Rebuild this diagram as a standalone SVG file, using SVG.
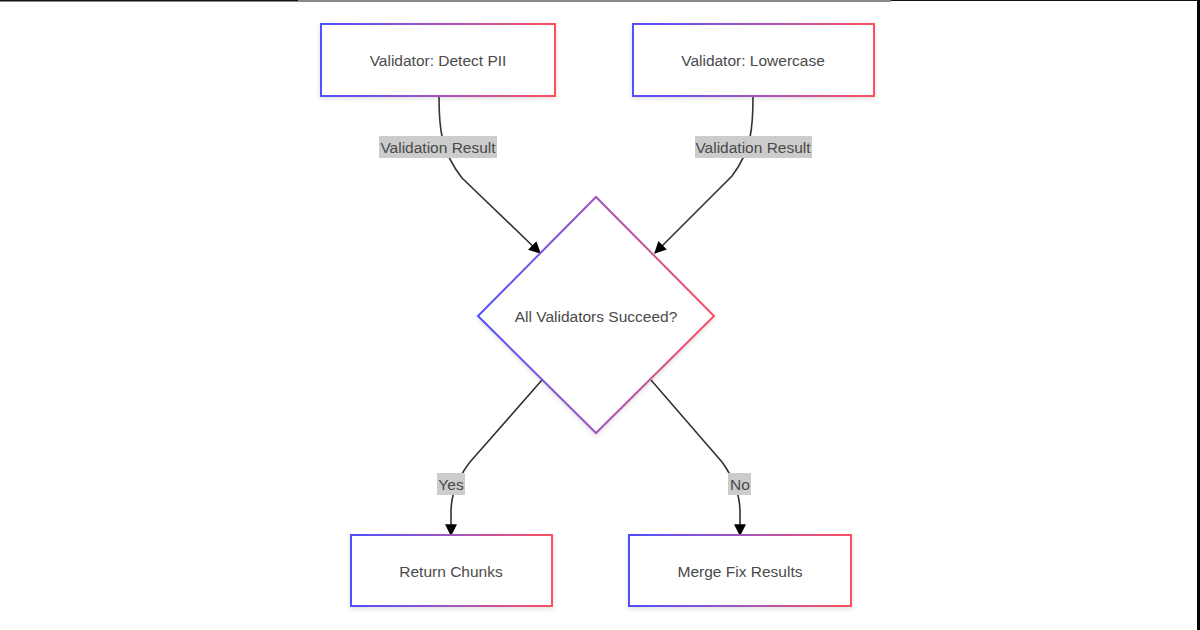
<svg xmlns="http://www.w3.org/2000/svg" width="1200" height="630" viewBox="0 0 1200 630">
<defs>
<linearGradient id="g" x1="0" y1="0" x2="1" y2="0">
<stop offset="0" stop-color="#5050ff"/>
<stop offset="0.5" stop-color="#a055c0"/>
<stop offset="1" stop-color="#ff5060"/>
</linearGradient>
<marker id="arr" viewBox="0 0 10 10" refX="9" refY="5" markerWidth="12" markerHeight="12" markerUnits="userSpaceOnUse" orient="auto">
<path d="M0,0 L10,5 L0,10 z" fill="#000"/>
</marker>
<filter id="sh" x="-10%" y="-10%" width="120%" height="130%">
<feDropShadow dx="0" dy="2" stdDeviation="2" flood-color="#000" flood-opacity="0.12"/>
</filter>
</defs>
<style>
.node{fill:#fff;stroke:url(#g);stroke-width:2;filter:url(#sh)}
.t{font-family:"Liberation Sans",Arial,sans-serif;font-size:15.5px;fill:#4a4a4a;text-anchor:middle}
.e{fill:none;stroke:#333;stroke-width:1.6;marker-end:url(#arr)}
.lb{fill:#cccccc}
</style>
<rect x="0" y="0" width="1200" height="630" fill="#fff"/>
<line x1="0" y1="0.5" x2="298" y2="0.5" stroke="#111" stroke-width="2"/>
<line x1="298" y1="1" x2="891" y2="1" stroke="#888" stroke-width="2"/>
<line x1="891" y1="0.5" x2="1200" y2="0.5" stroke="#111" stroke-width="1"/>
<line x1="1198.5" y1="0" x2="1198.5" y2="630" stroke="#000" stroke-width="3"/>

<g id="connectors">
<path class="e" d="M439,97 C439,125 440,150 462,178 L540,253"/>
<path class="e" d="M753,97 C753,125 752,150 732,176 L655,253"/>
<path class="e" d="M542,380 L470,462 C456,480 451,495 451,512 L451,535"/>
<path class="e" d="M651,380 L722,462 C735,480 740,495 740,512 L740,535"/>
</g>

<g id="edge-labels">
<rect class="lb" x="379" y="136" width="118" height="22"/>
<text class="t" x="438" y="152.5">Validation Result</text>
<rect class="lb" x="695" y="136" width="117" height="22"/>
<text class="t" x="753" y="152.5">Validation Result</text>
<rect class="lb" x="437" y="473" width="28" height="22"/>
<text class="t" x="451" y="489.5">Yes</text>
<rect class="lb" x="728" y="473" width="23" height="22"/>
<text class="t" x="740" y="489.5">No</text>
</g>

<g id="validator-pii">
<rect class="node" x="321" y="24" width="234" height="72"/>
<text class="t" x="438" y="65.5">Validator: Detect PII</text>
</g>
<g id="validator-lowercase">
<rect class="node" x="633" y="24" width="241" height="72"/>
<text class="t" x="753" y="65.5">Validator: Lowercase</text>
</g>
<g id="decision">
<polygon class="node" points="596,197 714,316 596,433 478,316"/>
<text class="t" x="596" y="321.5">All Validators Succeed?</text>
</g>
<g id="return-chunks">
<rect class="node" x="351" y="535" width="201" height="71"/>
<text class="t" x="451" y="576.5">Return Chunks</text>
</g>
<g id="merge-fix">
<rect class="node" x="629" y="535" width="222" height="71"/>
<text class="t" x="740" y="576.5">Merge Fix Results</text>
</g>
</svg>
